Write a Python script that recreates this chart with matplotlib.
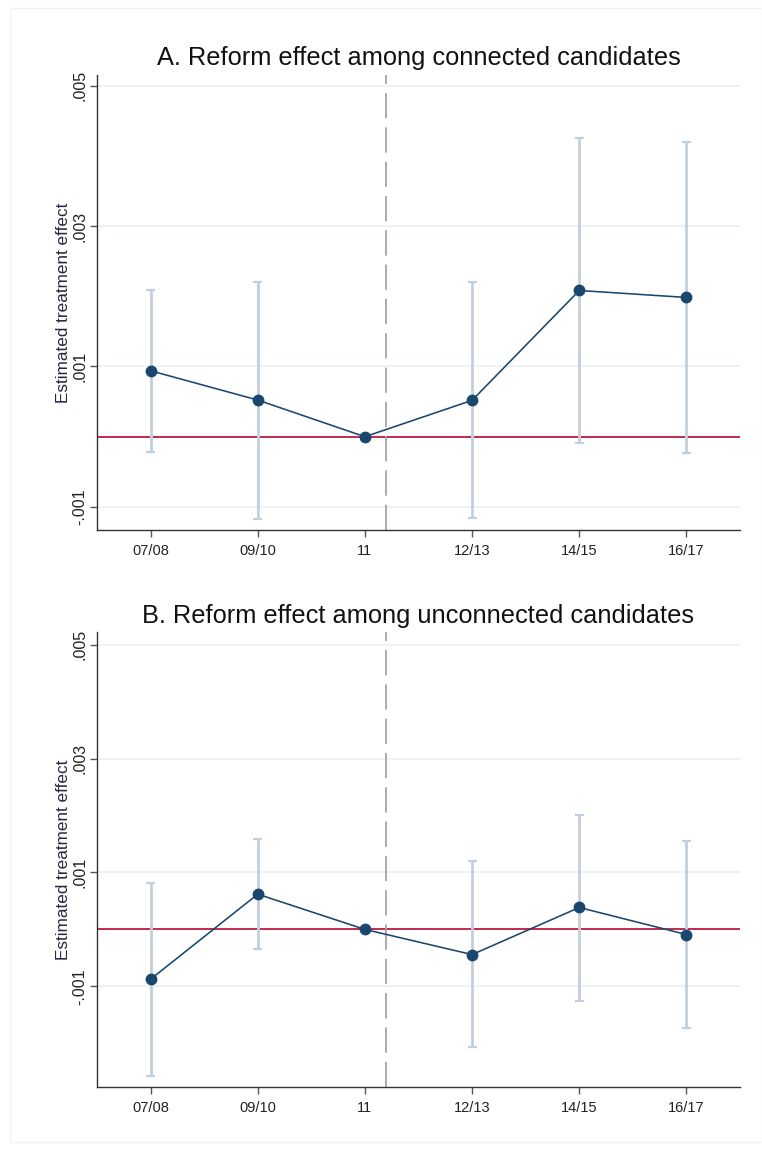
import matplotlib
matplotlib.use("Agg")
import matplotlib.pyplot as plt
from matplotlib.patches import Rectangle

plt.rcParams['font.family'] = ['Liberation Sans', 'DejaVu Sans']

periods = ["07/08", "09/10", "11", "12/13", "14/15", "16/17"]

# Panel A: connected candidates
a_est = [0.000939, 0.000522, 0.0, 0.000518, 0.002082, 0.001983]
a_lo = [-0.000214, -0.001167, None, -0.001153, -0.000085, -0.000228]
a_hi = [0.002088, 0.002207, None, 0.002207, 0.004248, 0.004190]

# Panel B: unconnected candidates
b_est = [-0.000875, 0.000619, 0.0, -0.000442, 0.000385, -0.000090]
b_lo = [-0.002580, -0.000348, None, -0.002070, -0.001262, -0.001730]
b_hi = [0.000824, 0.001585, None, 0.001193, 0.002012, 0.001550]

yticks = [-0.001, 0.001, 0.003, 0.005]
ytick_labels = ["-.001", ".001", ".003", ".005"]
titles = ["A. Reform effect among connected candidates",
          "B. Reform effect among unconnected candidates"]
reform_break = 2.2

NAVY = "#1a476f"
CI = "#c3cfdc"
RED = "#c4294f"
GRID = "#eaf1f2"

W, H = 762, 1150
fig = plt.figure(figsize=(W / 100, H / 100), dpi=100)
fig.patch.set_facecolor("white")
fig.patches.append(Rectangle((10 / W, 1 - 1142 / H), 752 / W, 1134 / H,
                             transform=fig.transFigure, fill=False,
                             edgecolor="#f2f2f2", linewidth=1))

# axes boxes in pixel coords: left, top, right, bottom
boxes = [(97, 75, 740, 530), (97, 632, 740, 1087)]
title_y = [58, 616]
ylims = [(-0.001328, 0.00515), (-0.002768, 0.005224)]
data = [(a_est, a_lo, a_hi), (b_est, b_lo, b_hi)]

for i in range(2):
    l, t, r, b = boxes[i]
    ax = fig.add_axes([l / W, 1 - b / H, (r - l) / W, (b - t) / H])
    est, lo, hi = data[i]
    x = list(range(len(periods)))
    ax.set_xlim(-0.5, len(periods) - 0.5)
    ax.set_ylim(*ylims[i])

    for yt in yticks:
        ax.axhline(yt, color=GRID, lw=1.2, zorder=0)
    ax.axhline(0, color=RED, lw=1.4, zorder=1)
    ax.axvline(reform_break, color="#a5a5a5", lw=1.3, ls=(0, (14, 5)), zorder=1)

    for xi, l_, h_ in zip(x, lo, hi):
        if l_ is None:
            continue
        ax.plot([xi, xi], [l_, h_], color=CI, lw=2, zorder=2, solid_capstyle="butt")
        for yy in (l_, h_):
            ax.plot([xi - 0.042, xi + 0.042], [yy, yy], color=CI, lw=1.6, zorder=2,
                    solid_capstyle="butt")

    ax.plot(x, est, color=NAVY, lw=1.15, marker="o", ms=7.5, zorder=3)

    ax.set_xticks(x)
    ax.set_xticklabels(periods, fontsize=10.5, color="#222222")
    ax.set_yticks(yticks)
    ax.set_yticklabels(ytick_labels, fontsize=11.5, rotation=90, va="center",
                       color="#222222")
    ax.tick_params(axis="both", length=5, width=1, color="#555555")
    ax.tick_params(axis="x", pad=5)
    ax.tick_params(axis="y", pad=2)
    for s in ("top", "right"):
        ax.spines[s].set_visible(False)
    for s in ("left", "bottom"):
        ax.spines[s].set_color("#333333")
        ax.spines[s].set_linewidth(1)
    ax.set_ylabel("Estimated treatment effect", fontsize=12.3, color="#2a2440",
                  labelpad=1)
    fig.text((l + r) / 2 / W, 1 - title_y[i] / H, titles[i], fontsize=18.3,
             color="#111111", ha="center", va="center")

fig.savefig("out.png", dpi=100, facecolor="white")
